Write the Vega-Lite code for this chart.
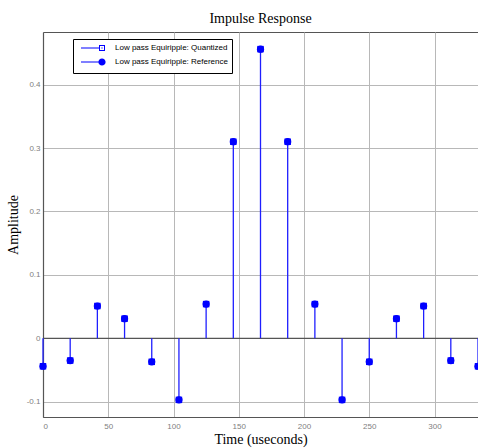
{
  "$schema": "https://vega.github.io/schema/vega-lite/v6.json",
  "autosize": {"type": "none"},
  "width": 435,
  "height": 385,
  "padding": {"left": 43, "top": 32, "right": 0, "bottom": 31},
  "background": "white",
  "config": {
    "view": {"stroke": "#555555", "strokeWidth": 1},
    "axis": {
      "labelFont": "Liberation Sans", "labelFontSize": 8, "labelColor": "#808080",
      "titleFont": "Liberation Serif", "titleFontSize": 14, "titleFontWeight": "normal", "titleColor": "#000000",
      "gridColor": "#b8b8b8", "gridWidth": 1, "gridOpacity": 1,
      "domainColor": "#555555", "domainWidth": 1.2,
      "tickSize": 0
    },
    "title": {"font": "Liberation Serif", "fontSize": 14, "fontWeight": "normal", "color": "#000000"}
  },
  "title": {"text": "Impulse Response", "offset": 6, "anchor": "middle"},
  "datasets": {
    "stem": [
      {"t": 0, "q": -0.044, "r": -0.044},
      {"t": 20.833, "q": -0.035, "r": -0.035},
      {"t": 41.667, "q": 0.051, "r": 0.051},
      {"t": 62.5, "q": 0.031, "r": 0.031},
      {"t": 83.333, "q": -0.037, "r": -0.037},
      {"t": 104.167, "q": -0.097, "r": -0.097},
      {"t": 125, "q": 0.054, "r": 0.054},
      {"t": 145.833, "q": 0.31, "r": 0.31},
      {"t": 166.667, "q": 0.456, "r": 0.456},
      {"t": 187.5, "q": 0.31, "r": 0.31},
      {"t": 208.333, "q": 0.054, "r": 0.054},
      {"t": 229.167, "q": -0.097, "r": -0.097},
      {"t": 250, "q": -0.037, "r": -0.037},
      {"t": 270.833, "q": 0.031, "r": 0.031},
      {"t": 291.667, "q": 0.051, "r": 0.051},
      {"t": 312.5, "q": -0.035, "r": -0.035},
      {"t": 333.333, "q": -0.044, "r": -0.044}
    ],
    "legend": [
      {"series": "Low pass Equiripple: Quantized"},
      {"series": "Low pass Equiripple: Reference"}
    ],
    "base": [{"y": 0}]
  },
  "layer": [
    {
      "data": {"name": "base"},
      "mark": {"type": "rule", "color": "#555555", "strokeWidth": 1.2},
      "encoding": {
        "y": {"field": "y", "type": "quantitative",
          "scale": {"domain": [-0.124, 0.483], "nice": false, "zero": false},
          "axis": {"title": "Amplitude", "values": [-0.1, 0, 0.1, 0.2, 0.3, 0.4], "grid": true,
            "format": "~g", "labelPadding": 3, "titlePadding": 6,
            "labelExpr": "replace(datum.label, '\u2212', '-')"}}
      }
    },
    {
      "data": {"name": "stem"},
      "mark": {"type": "rule", "color": "#1f1fff", "strokeWidth": 1.3},
      "encoding": {
        "x": {"field": "t", "type": "quantitative",
          "scale": {"domain": [0, 333.333], "nice": false, "zero": false},
          "axis": {"title": "Time (useconds)", "values": [0, 50, 100, 150, 200, 250, 300], "grid": true,
            "labelPadding": 5, "titlePadding": 2}},
        "y": {"field": "q", "type": "quantitative"},
        "y2": {"datum": 0}
      }
    },
    {
      "data": {"name": "stem"},
      "mark": {"type": "point", "shape": "circle", "filled": true, "color": "#0000ff", "opacity": 1, "size": 52},
      "encoding": {
        "x": {"field": "t", "type": "quantitative"},
        "y": {"field": "r", "type": "quantitative"}
      }
    },
    {
      "data": {"name": "stem"},
      "mark": {"type": "point", "shape": "square", "filled": true, "color": "#0000ff", "opacity": 1, "size": 42},
      "encoding": {
        "x": {"field": "t", "type": "quantitative"},
        "y": {"field": "q", "type": "quantitative"}
      }
    },
    {
      "data": {"name": "legend"},
      "mark": {"type": "point", "filled": true, "color": "#0000ff", "size": 0},
      "encoding": {
        "shape": {"field": "series", "type": "nominal",
          "scale": {"domain": ["Low pass Equiripple: Quantized", "Low pass Equiripple: Reference"],
            "range": [
              "M-0.25,-0.13H4.25V0.13H-0.25Z M4.25,-0.75H5.75V0.75H4.25Z M4.5,-0.5V0.5H5.5V-0.5Z M4.85,-0.15H5.15V0.15H4.85Z",
              "M-0.25,-0.13H4.2V0.13H-0.25Z M4.1,0A0.9,0.9 0 1,1 5.9,0A0.9,0.9 0 1,1 4.1,0Z"
            ]},
          "legend": {
            "title": null, "orient": "none", "legendX": 30, "legendY": 7,
            "symbolSize": 64, "symbolOpacity": 1,
            "labelFont": "Liberation Sans", "labelFontSize": 8, "labelColor": "#000000", "labelOffset": 28,
            "fillColor": "white", "strokeColor": "#000000", "padding": 4, "rowPadding": 1,
            "labelLimit": 300,
            "encode": {
              "legend": {"update": {"strokeWidth": {"value": 1.2}}},
              "symbols": {"update": {"stroke": {"value": "transparent"}, "fill": {"value": "#0000ff"}, "opacity": {"value": 1}}}
            }
          }
        }
      }
    }
  ]
}
